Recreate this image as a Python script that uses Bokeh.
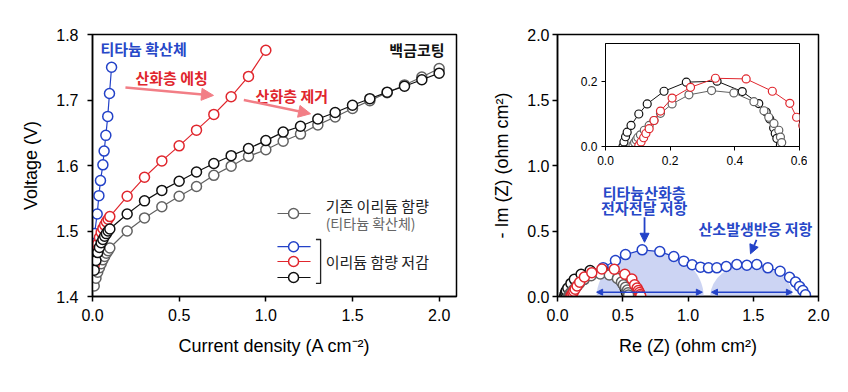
from bokeh.plotting import figure
from bokeh.models import Range1d, FixedTicker, NumeralTickFormatter, Label, Arrow, NormalHead
from bokeh.layouts import row
from bokeh.embed import file_html
from bokeh.resources import INLINE

# ---------------- data: polarization curves ----------------
j_low = [0.01, 0.02, 0.03, 0.04, 0.05, 0.06, 0.07, 0.08, 0.09, 0.1]
j_high = [0.2, 0.3, 0.4, 0.5, 0.6, 0.7, 0.8, 0.9, 1.0, 1.1, 1.2, 1.3, 1.4, 1.5, 1.6, 1.7, 1.8, 1.9, 2.0]

gray_j = j_low + j_high
gray_v = [1.416, 1.428, 1.437, 1.444, 1.450, 1.456, 1.461, 1.466, 1.470, 1.474,
          1.500, 1.520, 1.537, 1.553, 1.568, 1.585, 1.599, 1.614, 1.624, 1.637,
          1.648, 1.662, 1.674, 1.687, 1.699, 1.711, 1.723, 1.735, 1.748]

black_j = j_low + j_high
black_v = [1.440, 1.455, 1.467, 1.475, 1.482, 1.487, 1.492, 1.496, 1.500, 1.503,
           1.526, 1.546, 1.562, 1.576, 1.590, 1.603, 1.615, 1.626, 1.638, 1.651,
           1.660, 1.671, 1.681, 1.692, 1.702, 1.712, 1.721, 1.731, 1.741]

red_j = j_low + j_high[:9]
red_v = [1.448, 1.466, 1.480, 1.490, 1.498, 1.504, 1.509, 1.514, 1.518, 1.522,
         1.553, 1.582, 1.607, 1.630, 1.654, 1.678, 1.705, 1.736, 1.776]

blue_j = [0.003, 0.006, 0.012, 0.027, 0.037, 0.046, 0.060, 0.067, 0.077, 0.088, 0.098, 0.110]
blue_v = [1.450, 1.475, 1.496, 1.526, 1.554, 1.577, 1.601, 1.622, 1.646, 1.675, 1.710, 1.750]

# ---------------- data: Nyquist plots ----------------
eis_gray_re = [0.085, 0.090, 0.095, 0.100, 0.108, 0.120, 0.135, 0.150, 0.170, 0.206, 0.258, 0.328,
               0.397, 0.459, 0.490, 0.505, 0.521, 0.536, 0.541, 0.545]
eis_gray_im = [0.005, 0.012, 0.020, 0.028, 0.036, 0.050, 0.065, 0.080, 0.102, 0.131, 0.159, 0.172,
               0.165, 0.138, 0.110, 0.090, 0.071, 0.050, 0.029, 0.012]

eis_black_re = [0.054, 0.057, 0.062, 0.067, 0.079, 0.103, 0.129, 0.181, 0.250, 0.345, 0.423, 0.474,
                0.497, 0.508, 0.520, 0.525, 0.530, 0.541]
eis_black_im = [0.000, 0.014, 0.030, 0.044, 0.065, 0.100, 0.131, 0.170, 0.198, 0.201, 0.169, 0.132,
                0.106, 0.085, 0.057, 0.040, 0.025, 0.005]

eis_red_re = [0.103, 0.110, 0.118, 0.125, 0.135, 0.150, 0.170, 0.206, 0.263, 0.340, 0.435, 0.516,
              0.570, 0.591, 0.610, 0.620, 0.628, 0.634, 0.638]
eis_red_im = [0.003, 0.014, 0.027, 0.040, 0.055, 0.080, 0.109, 0.149, 0.182, 0.210, 0.208, 0.170,
              0.133, 0.090, 0.065, 0.045, 0.030, 0.015, 0.003]

eis_blue_re = [0.10, 0.12, 0.15, 0.20, 0.27, 0.35, 0.444, 0.521, 0.649, 0.784, 0.891, 0.968, 1.032,
               1.096, 1.157, 1.221, 1.293, 1.374, 1.451, 1.527, 1.612, 1.706, 1.778, 1.824, 1.855,
               1.880, 1.900]
eis_blue_im = [0.01, 0.04, 0.08, 0.13, 0.18, 0.22, 0.275, 0.320, 0.356, 0.343, 0.305, 0.270, 0.242,
               0.224, 0.219, 0.219, 0.229, 0.244, 0.239, 0.244, 0.219, 0.193, 0.147, 0.110, 0.076,
               0.046, 0.013]

# ---------------- styles ----------------
BLUE = "#2342c8"
RED = "#e0262d"
BLACK = "#111111"
GRAY = "#626262"
PINK = "#f27e86"
TXT_BLUE = "#2748c8"
NUM_FONT = "Liberation Sans"
KR_FONT = "Noto Sans CJK KR"


def style_axes(p, tick_standoff):
    p.xgrid.visible = False
    p.ygrid.visible = False
    p.outline_line_color = "black"
    p.outline_line_width = 1.5
    p.outline_line_alpha = 1
    for ax in (p.xaxis[0], p.yaxis[0]):
        ax.axis_line_width = 1.5
        ax.major_tick_line_width = 1.5
        ax.major_tick_out = 5
        ax.major_tick_in = 0
        ax.minor_tick_line_color = None
        ax.major_label_text_font = NUM_FONT
        ax.major_label_text_font_size = "16px"
        ax.major_label_text_color = "black"
        ax.axis_label_text_font = NUM_FONT
        ax.axis_label_text_font_size = "18px"
        ax.axis_label_text_font_style = "normal"
        ax.axis_label_text_color = "black"
        ax.formatter = NumeralTickFormatter(format="0.0")
    p.xaxis[0].major_label_standoff = 7
    p.yaxis[0].major_label_standoff = tick_standoff
    p.xaxis[0].axis_label_standoff = 12
    p.yaxis[0].axis_label_standoff = 12


def kr_label(p, x, y, text, color, size="15px", align="left", bold=True):
    p.add_layout(Label(x=x, y=y, text=text, text_color=color, text_font=KR_FONT,
                       text_font_size=size, text_font_style="bold" if bold else "normal",
                       text_align=align, text_baseline="middle"))


# ---------------- left: polarization ----------------
p1 = figure(width=480, height=384, x_range=Range1d(0, 2.1), y_range=Range1d(1.4, 1.8),
            min_border_left=92, min_border_right=24, min_border_top=34, min_border_bottom=88,
            output_backend="svg", toolbar_location=None)
style_axes(p1, 9)
p1.xaxis.ticker = FixedTicker(ticks=[0.0, 0.5, 1.0, 1.5, 2.0])
p1.yaxis.ticker = FixedTicker(ticks=[1.4, 1.5, 1.6, 1.7, 1.8])
p1.xaxis.axis_label = "Current density (A cm\u207b\u00b2)"
p1.yaxis.axis_label = "Voltage (V)"

MS = 10
for xs, ys, col in ((gray_j, gray_v, GRAY), (blue_j, blue_v, BLUE), (red_j, red_v, RED), (black_j, black_v, BLACK)):
    p1.line(xs, ys, line_color=col, line_width=1.2)
    p1.scatter(xs, ys, marker="circle", size=MS, fill_color="white", line_color=col, line_width=1.5)

kr_label(p1, 0.046, 1.779, "티타늄 확산체", TXT_BLUE)
kr_label(p1, 0.248, 1.734, "산화층 에칭", RED)
kr_label(p1, 0.941, 1.707, "산화층 제거", RED)
kr_label(p1, 2.031, 1.777, "백금코팅", BLACK, align="right")

for xs, ys, xe, ye in ((0.19, 1.719, 0.698, 1.707), (0.873, 1.700, 1.258, 1.679)):
    p1.add_layout(Arrow(x_start=xs, y_start=ys, x_end=xe, y_end=ye, line_color=PINK, line_width=2.5,
                        end=NormalHead(size=12, fill_color=PINK, line_color=PINK)))

# manual legend
LEG_X0, LEG_X1, LEG_XM = 1.067, 1.258, 1.16
leg_items = [(1.5267, GRAY), (1.476, BLUE), (1.4534, RED), (1.429, BLACK)]
for ly, col in leg_items:
    p1.line([LEG_X0, LEG_X1], [ly, ly], line_color=col, line_width=1.2)
    p1.scatter([LEG_XM], [ly], marker="circle", size=MS, fill_color="white", line_color=col, line_width=1.5)
kr_label(p1, 1.345, 1.539, "기존 이리듐 함량", "#222222", bold=False)
kr_label(p1, 1.345, 1.5115, "(티타늄 확산체)", "#666666", size="14px", bold=False)
kr_label(p1, 1.345, 1.453, "이리듐 함량 저감", "#222222", bold=False)
BR_X, BR_T, BR_B, BR_W = 1.316, 1.487, 1.42, 0.027
p1.line([BR_X - BR_W, BR_X, BR_X, BR_X - BR_W], [BR_T, BR_T, BR_B, BR_B], line_color="#222222", line_width=1.3)

# ---------------- right: Nyquist ----------------
p2 = figure(width=360, height=384, x_range=Range1d(0, 2.0), y_range=Range1d(0, 2.0),
            min_border_left=77, min_border_right=22, min_border_top=34, min_border_bottom=88,
            output_backend="svg", toolbar_location=None)
style_axes(p2, 3)
p2.xaxis.ticker = FixedTicker(ticks=[0.0, 0.5, 1.0, 1.5, 2.0])
p2.yaxis.ticker = FixedTicker(ticks=[0.0, 0.5, 1.0, 1.5, 2.0])
p2.xaxis.axis_label = "Re (Z) (ohm cm\u00b2)"
p2.yaxis.axis_label = "- Im (Z) (ohm cm\u00b2)"

SHADE = "#c3ccf1"
p2.ellipse(x=0.71, y=0, width=0.82, height=0.70, fill_color=SHADE, fill_alpha=0.85, line_color=None)
p2.ellipse(x=1.485, y=0, width=0.63, height=0.50, fill_color=SHADE, fill_alpha=0.85, line_color=None)
for xs, xe in ((0.30, 1.11), (1.18, 1.80)):
    p2.add_layout(Arrow(x_start=xs, y_start=0.033, x_end=xe, y_end=0.033, line_color=BLUE, line_width=1.5,
                        start=NormalHead(size=6, fill_color=BLUE, line_color=BLUE),
                        end=NormalHead(size=6, fill_color=BLUE, line_color=BLUE)))

for xs, ys, col in ((eis_blue_re, eis_blue_im, BLUE), (eis_black_re, eis_black_im, BLACK),
                    (eis_gray_re, eis_gray_im, GRAY), (eis_red_re, eis_red_im, RED)):
    p2.line(xs, ys, line_color=col, line_width=1.2)
    p2.scatter(xs, ys, marker="circle", size=MS, fill_color="white", line_color=col, line_width=1.5)

kr_label(p2, 0.664, 0.796, "티타늄산화층", TXT_BLUE, align="center")
kr_label(p2, 0.664, 0.682, "전자전달 저항", TXT_BLUE, align="center")
kr_label(p2, 1.517, 0.517, "산소발생반응 저항", TXT_BLUE, align="center")
for xs, ys, xe, ye in ((0.667, 0.605, 0.667, 0.414), (1.525, 0.433, 1.479, 0.326)):
    p2.add_layout(Arrow(x_start=xs, y_start=ys, x_end=xe, y_end=ye, line_color=BLUE, line_width=1.8,
                        end=NormalHead(size=9, fill_color=BLUE, line_color=BLUE)))

# ---------------- inset ----------------
# row layouts align top/bottom borders of figures, so the inset uses the same borders
p3 = figure(width=237, height=225, x_range=Range1d(0, 0.6), y_range=Range1d(0, 0.317),
            min_border_left=35, min_border_right=8, min_border_top=34, min_border_bottom=88,
            output_backend="svg", toolbar_location=None,
            margin=(9, 0, 0, -270))
p3.border_fill_alpha = 0
p3.background_fill_color = "white"
p3.background_fill_alpha = 1
p3.xgrid.visible = False
p3.ygrid.visible = False
p3.outline_line_color = "black"
p3.outline_line_width = 1
p3.outline_line_alpha = 1
for ax in (p3.xaxis[0], p3.yaxis[0]):
    ax.axis_line_width = 1
    ax.major_tick_out = 4
    ax.major_tick_in = 0
    ax.minor_tick_line_color = None
    ax.major_label_text_font = NUM_FONT
    ax.major_label_text_font_size = "12px"
    ax.major_label_text_color = "black"
    ax.formatter = NumeralTickFormatter(format="0.0")
p3.xaxis.ticker = FixedTicker(ticks=[0.0, 0.2, 0.4, 0.6])
p3.yaxis.ticker = FixedTicker(ticks=[0.0, 0.2])
p3.xaxis.major_label_standoff = 5
p3.yaxis.major_label_standoff = 4
for xs, ys, col in ((eis_black_re, eis_black_im, BLACK), (eis_gray_re, eis_gray_im, GRAY),
                    (eis_red_re, eis_red_im, RED)):
    p3.line(xs, ys, line_color=col, line_width=1)
    p3.scatter(xs, ys, marker="circle", size=8, fill_color="white", line_color=col, line_width=1.2)

layout = row(p1, p2, p3)
open("out.html", "w").write(file_html(layout, INLINE))
